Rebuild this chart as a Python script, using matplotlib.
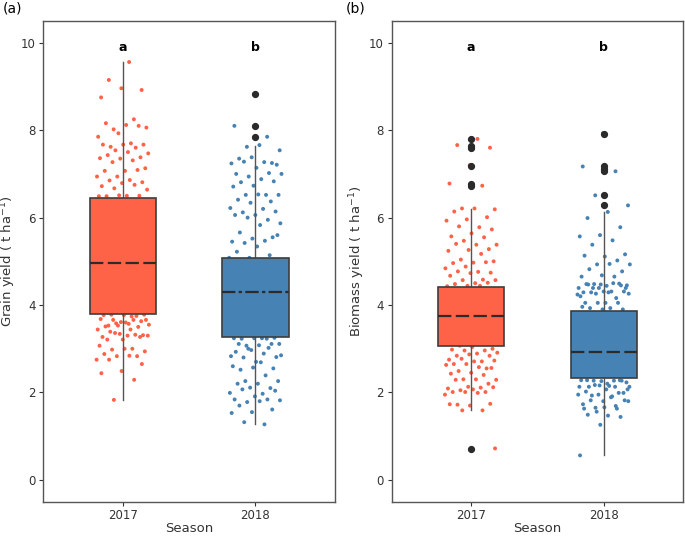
import numpy as np
import matplotlib
matplotlib.use("Agg")
import matplotlib.pyplot as plt

seasons = ["2017", "2018"]
letters = ["a", "b"]

# Grain yield, visible jittered observations (t/ha)
grain_2017 = [9.56, 9.15, 8.92, 8.96, 8.75, 8.25, 8.02, 8.06, 8.12, 8.16, 8.10, 7.93, 7.85, 7.70,
              7.62, 7.67, 7.67, 7.67, 7.60, 7.54, 7.47, 7.50, 7.43, 7.38, 7.35, 7.36, 7.31, 7.27,
              7.13, 7.07, 7.07, 7.09, 6.94, 6.94, 6.86, 6.85, 6.81, 6.79, 6.72, 6.75, 6.67, 6.64,
              6.50, 6.49, 6.50, 6.51, 6.49,
              3.74, 3.78, 3.78, 3.77, 3.77, 3.75, 3.58, 3.55, 3.57, 3.53, 3.63, 3.61, 3.68, 3.66,
              3.66, 3.66, 3.60, 3.51, 3.50, 3.53, 3.44, 3.44, 3.39, 3.31, 3.21, 3.27, 3.32, 3.36,
              3.30, 3.30, 3.21, 3.27, 3.34, 3.07, 3.00, 2.98, 2.94, 3.00, 2.88, 2.83, 2.83, 2.75,
              2.84, 2.75, 2.65, 2.49, 2.44, 2.29, 1.83]
grain_2018 = [8.83, 8.10, 7.85, 7.62, 7.54, 7.66, 7.35, 7.25, 7.38, 7.24, 7.27, 7.28, 7.21, 7.14,
              7.00, 7.02, 6.94, 7.00, 6.88, 6.81, 6.83, 6.73, 6.71, 6.52, 6.52, 6.52, 6.53, 6.41,
              6.37, 6.34, 6.22, 6.20, 6.12, 6.14, 6.06, 6.06, 5.95, 6.00, 5.87, 5.83, 5.66, 5.55,
              5.52, 5.45, 5.47, 5.42, 5.60, 5.34, 5.22, 5.14, 5.08, 5.08,
              3.24, 3.23, 3.25, 3.24, 3.24, 3.23, 3.07, 3.11, 3.08, 3.11, 3.11, 2.97, 2.83, 2.89,
              2.80, 2.81, 2.70, 2.93, 3.02, 3.00, 2.85, 2.69, 2.52, 2.55, 2.57, 2.60, 2.39, 2.26,
              2.26, 2.20, 2.20, 2.10, 2.11, 1.99, 1.97, 2.07, 2.04, 1.91, 1.84, 1.84, 1.78, 1.82,
              1.80, 1.70, 1.61, 1.55, 1.53, 1.27, 1.32]

# Biomass yield, visible jittered observations (t/ha)
biomass_2017 = [7.80, 7.66, 7.60, 7.20, 6.78, 6.73, 6.21, 6.19, 6.21, 6.14, 6.01, 5.96, 5.93, 5.78,
                5.80, 5.73, 5.64, 5.57, 5.55, 5.47, 5.38, 5.38, 5.40, 5.28, 5.26, 5.24, 5.17, 5.04,
                5.00, 4.97, 4.96, 4.98, 4.88, 4.84, 4.76, 4.77, 4.74, 4.73, 4.67, 4.58, 4.57, 4.57,
                4.50, 4.48, 4.51, 4.44, 4.43, 4.44,
                3.07, 3.00, 3.04, 2.98, 2.96, 2.96, 2.91, 2.89, 2.84, 2.84, 2.87, 2.75, 2.71, 2.77,
                2.73, 2.71, 2.65, 2.55, 2.65, 2.63, 2.58, 2.49, 2.56, 2.45, 2.43, 2.40, 2.30, 2.29,
                2.30, 2.29, 2.20, 2.13, 2.09, 2.11, 2.05, 2.12, 2.07, 2.01, 2.01, 2.01, 1.95, 1.99,
                1.72, 1.74, 1.70, 1.73, 1.59, 1.59, 0.72]
biomass_2018 = [7.93, 7.17, 7.06, 6.51, 6.28, 6.13, 5.99, 5.78, 5.60, 5.57, 5.48, 5.38, 5.16, 5.11,
                5.13, 5.02, 4.93, 4.93, 4.94, 4.82, 4.77, 4.68, 4.65, 4.65, 4.48, 4.45, 4.44, 4.48,
                4.49, 4.39, 4.39, 4.31, 4.29, 4.31, 4.31, 4.29, 4.16, 4.26, 4.26, 4.29, 4.47, 4.45,
                4.47, 4.20, 4.50, 4.39, 4.39, 4.05, 4.05, 4.05, 4.05, 4.24, 3.93, 3.93, 3.90, 3.90,
                3.96,
                2.13, 2.17, 2.07, 2.20, 2.28, 2.28, 2.16, 2.13, 1.91, 1.93, 1.82, 1.66, 1.63, 1.63,
                1.56, 2.13, 2.15, 2.13, 2.27, 2.26, 2.28, 2.27, 2.27, 2.23, 2.07, 2.02, 1.99, 1.95,
                1.95, 1.89, 1.82, 1.99, 1.80, 1.73, 1.69, 1.65, 1.80, 1.47, 1.49, 1.44, 1.26, 0.56]

# Box statistics
grain_q1 = [3.80, 3.28]
grain_med = [4.97, 4.30]
grain_q3 = [6.45, 5.07]
grain_lo = [1.82, 1.28]
grain_hi = [9.55, 7.65]
grain_out = [[], [7.84, 8.09, 8.82]]

biomass_q1 = [3.07, 2.33]
biomass_med = [3.76, 2.92]
biomass_q3 = [4.42, 3.87]
biomass_lo = [1.60, 0.57]
biomass_hi = [6.20, 6.12]
biomass_out = [[0.71, 6.72, 6.76, 7.19, 7.60, 7.63, 7.79], [6.28, 6.51, 7.06, 7.12, 7.17, 7.92]]

colors = ["#FF6347", "#4682B4"]

fig = plt.figure(figsize=(6.85, 5.37), dpi=100)
ax_a = fig.add_axes([0.0632, 0.0657, 0.4258, 0.8953])
ax_b = fig.add_axes([0.5718, 0.0657, 0.4257, 0.8953])


def jitter(n, k):
    # deterministic low-discrepancy jitter in [-0.2, 0.2]
    idx = np.arange(n) + 1 + 37 * k
    return ((idx * 0.6180339887) % 1.0 - 0.5) * 0.4


def panel(ax, pts, q1, med, q3, lo, hi, outs, ylabel, med_styles):
    for i, p in enumerate(pts):
        x = i + 1 + jitter(len(p), i)
        ax.scatter(x, p, s=8, color=colors[i], edgecolors="none", zorder=1)
    stats = []
    for i in range(2):
        stats.append(dict(med=med[i], q1=q1[i], q3=q3[i], whislo=lo[i], whishi=hi[i],
                          fliers=outs[i]))
    bp = ax.bxp(stats, positions=[1, 2], widths=0.5, patch_artist=True, showcaps=False,
                boxprops=dict(edgecolor="#3d3d3d", linewidth=1.2),
                whiskerprops=dict(color="#555555", linewidth=1.0),
                medianprops=dict(color="#2b2b2b", linewidth=1.6),
                flierprops=dict(marker="o", markerfacecolor="#2b2b2b", markeredgecolor="#2b2b2b",
                                markersize=4.2))
    for i, b in enumerate(bp["boxes"]):
        b.set_facecolor(colors[i])
        b.set_zorder(2)
    for m, ls in zip(bp["medians"], med_styles):
        m.set_linestyle(ls)
        m.set_zorder(3)
    for w in bp["whiskers"]:
        w.set_zorder(1.5)
    for f in bp["fliers"]:
        f.set_zorder(3)
    for i in range(2):
        ax.text(i + 1, 9.9, letters[i], ha="center", va="center", fontsize=9,
                fontweight="bold", color="black")
    ax.set_xlim(0.4, 2.6)
    ax.set_ylim(-0.5, 10.5)
    ax.set_xticks([1, 2])
    ax.set_xticklabels(seasons)
    ax.set_yticks([0, 2, 4, 6, 8, 10])
    ax.tick_params(axis="both", labelsize=8.5, colors="#333333", length=3, width=0.8,
                   color="#333333", pad=2.5)
    for s in ax.spines.values():
        s.set_color("#555555")
        s.set_linewidth(1.0)
    ax.set_xlabel("Season", fontsize=9.5, color="#333333")
    ax.xaxis.set_label_coords(0.5, -0.043)
    ax.set_ylabel(ylabel, fontsize=9.5, color="#333333")
    ax.yaxis.set_label_coords(-0.086, 0.5)


panel(ax_a, [grain_2017, grain_2018], grain_q1, grain_med, grain_q3, grain_lo, grain_hi,
      grain_out, "Grain yield ( t ha$^{-1}$)",
      [(0, (6, 2)), (0, (6, 1.5, 1.5, 1.5))])
panel(ax_b, [biomass_2017, biomass_2018], biomass_q1, biomass_med, biomass_q3, biomass_lo,
      biomass_hi, biomass_out, "Biomass yield ( t ha$^{-1}$)",
      [(0, (6, 2)), (0, (6, 2))])

fig.text(0.004, 0.984, "(a)", fontsize=10, color="black", ha="left", va="center")
fig.text(0.505, 0.984, "(b)", fontsize=10, color="black", ha="left", va="center")

fig.savefig("out.png", dpi=100)
